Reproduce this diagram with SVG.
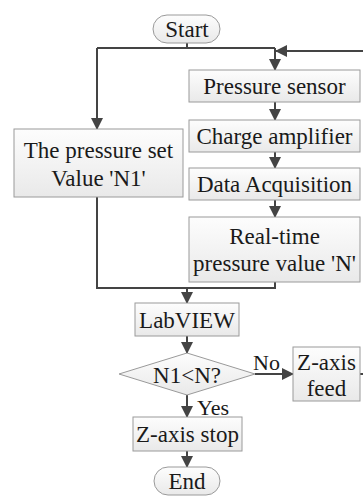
<svg xmlns="http://www.w3.org/2000/svg" width="363" height="496" viewBox="0 0 363 496">
<style>
.box{fill:url(#g);stroke:#9a9a9a;stroke-width:1}
.t{font-family:"Liberation Serif","Times New Roman",serif;font-size:23px;fill:#1a1a1a;text-anchor:middle}
.lbl{font-family:"Liberation Serif","Times New Roman",serif;font-size:22px;fill:#1a1a1a}
.c{fill:none;stroke:#444;stroke-width:2}
</style>
<defs>
<linearGradient id="g" x1="0" y1="0" x2="0" y2="1">
<stop offset="0" stop-color="#fdfdfd"/>
<stop offset="1" stop-color="#e9e9e9"/>
</linearGradient>
<marker id="a" markerUnits="userSpaceOnUse" markerWidth="12" markerHeight="12" refX="11" refY="6" orient="auto" viewBox="0 0 12 12">
<path d="M0,0 L12,6 L0,12 z" fill="#444"/>
</marker>
</defs>
<g id="connectors">
<path class="c" d="M187,43 V48 M97,48 H275"/>
<path class="c" d="M97,48 V129" marker-end="url(#a)"/>
<path class="c" d="M275,48 V70" marker-end="url(#a)"/>
<path class="c" d="M363,51 H276" marker-end="url(#a)"/>
<path class="c" d="M275,102 V120" marker-end="url(#a)"/>
<path class="c" d="M275,152 V168" marker-end="url(#a)"/>
<path class="c" d="M275,200 V217" marker-end="url(#a)"/>
<path class="c" d="M97,197 V288 H275 V282"/>
<path class="c" d="M187,288 V303" marker-end="url(#a)"/>
<path class="c" d="M187,336 V353" marker-end="url(#a)"/>
<path class="c" d="M255,374 H293" marker-end="url(#a)"/>
<path class="c" d="M360,374 H363"/>
<path class="c" d="M187,395 V417" marker-end="url(#a)"/>
<path class="c" d="M187,451 V467" marker-end="url(#a)"/>
<text class="lbl" x="253" y="370">No</text>
<text class="lbl" x="197" y="415">Yes</text>
</g>
<g id="start">
<rect class="box" x="153" y="15" width="67" height="28" rx="14"/>
<text class="t" x="187" y="37">Start</text>
</g>
<g id="setvalue">
<rect class="box" x="14" y="129" width="169" height="68"/>
<text class="t" x="98.5" y="158">The pressure set</text>
<text class="t" x="98.5" y="186">Value 'N1'</text>
</g>
<g id="sensor">
<rect class="box" x="189" y="70" width="171" height="32"/>
<text class="t" x="274.5" y="94">Pressure sensor</text>
</g>
<g id="amplifier">
<rect class="box" x="189" y="120" width="171" height="32"/>
<text class="t" x="274.5" y="144">Charge amplifier</text>
</g>
<g id="daq">
<rect class="box" x="189" y="168" width="171" height="32"/>
<text class="t" x="274.5" y="192">Data Acquisition</text>
</g>
<g id="realtime">
<rect class="box" x="189" y="217" width="171" height="65"/>
<text class="t" x="274.5" y="244">Real-time</text>
<text class="t" x="274.5" y="271">pressure value 'N'</text>
</g>
<g id="labview">
<rect class="box" x="135" y="303" width="104" height="33"/>
<text class="t" x="187" y="328">LabVIEW</text>
</g>
<g id="decision">
<polygon class="box" points="187,353 255,374 187,395 119,374"/>
<text class="t" x="187" y="383">N1&lt;N?</text>
</g>
<g id="feed">
<rect class="box" x="293" y="347" width="67" height="54"/>
<text class="t" x="326.5" y="370">Z-axis</text>
<text class="t" x="326.5" y="396">feed</text>
</g>
<g id="stop">
<rect class="box" x="133" y="417" width="109" height="34"/>
<text class="t" x="187.5" y="442">Z-axis stop</text>
</g>
<g id="end">
<rect class="box" x="154" y="467" width="66" height="28" rx="14"/>
<text class="t" x="187" y="489">End</text>
</g>
</svg>
